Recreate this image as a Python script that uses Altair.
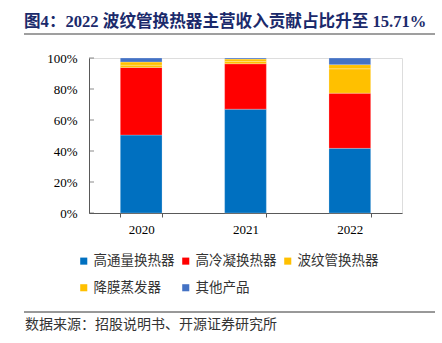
import altair as alt
import pandas as pd

years = ["2020", "2021", "2022"]
categories = ["高通量换热器", "高冷凝换热器", "波纹管换热器", "降膜蒸发器", "其他产品"]
colors = ["#0070C0", "#FF0000", "#FFC000", "#FFC000", "#4472C4"]
s_high_flux = [50.3, 67.0, 41.7]
s_high_cond = [43.6, 29.3, 35.6]
s_corrugated = [1.5, 1.5, 15.71]
s_falling = [2.0, 1.5, 2.7]
s_other = [2.6, 0.7, 4.29]
y_ticks = [0, 20, 40, 60, 80, 100]

title_text = "图4：2022 波纹管换热器主营收入贡献占比升至 15.71%"
source_text = "数据来源：招股说明书、开源证券研究所"

series = [s_high_flux, s_high_cond, s_corrugated, s_falling, s_other]
rows = []
for i, (cat, vals) in enumerate(zip(categories, series)):
    for y, v in zip(years, vals):
        rows.append({"year": y, "category": cat, "value": v, "idx": i})
df = pd.DataFrame(rows)

SERIF = "Liberation Serif, Noto Sans CJK SC"
AXIS_COLOR = "#595959"

y_axis = alt.Axis(title=None, values=y_ticks, labelExpr="datum.value + '%'",
                  ticks=False, grid=False, domainColor=AXIS_COLOR,
                  labelOverlap=False, labelFont=SERIF, labelFontSize=13,
                  labelColor="#000", labelPadding=12)
y_scale = alt.Scale(domain=[0, 100], nice=False)

bars = alt.Chart(df).mark_bar(stroke="white", strokeWidth=0.4, strokeOpacity=0.6).encode(
    x=alt.X("year:N", sort=years,
            scale=alt.Scale(paddingInner=0.6, paddingOuter=0.3),
            axis=alt.Axis(title=None, labelAngle=0, tickBand="extent", ticks=True,
                          tickSize=4, tickColor=AXIS_COLOR, domainColor=AXIS_COLOR,
                          labelFont=SERIF, labelFontSize=13, labelColor="#000",
                          labelPadding=6)),
    y=alt.Y("value:Q", stack="zero", scale=y_scale, axis=y_axis),
    color=alt.Color("category:N",
                    scale=alt.Scale(domain=categories, range=colors),
                    legend=alt.Legend(title=None, orient="none", legendX=-12, legendY=196,
                                      direction="horizontal",
                                      columns=3, symbolType="square", symbolSize=50,
                                      symbolStrokeWidth=0, labelFont=SERIF,
                                      labelFontSize=13.5, labelColor="#333",
                                      columnPadding=4, rowPadding=12, labelOffset=3)),
    order=alt.Order("idx:Q", sort="ascending"),
)

tick_df = pd.DataFrame({"value": y_ticks})
yticks = alt.Chart(tick_df).mark_tick(color=AXIS_COLOR, thickness=1, size=5).encode(
    y=alt.Y("value:Q", scale=y_scale, axis=y_axis),
    x=alt.value(2.5),
)

one = pd.DataFrame({"t": [title_text]})
title = alt.Chart(one).mark_text(align="left", baseline="middle", font=SERIF,
                                 fontSize=16.6, fontWeight="bold", color="#1b2a6b").encode(
    x=alt.value(-65), y=alt.value(-36), text="t:N")

src = alt.Chart(pd.DataFrame({"t": [source_text]})).mark_text(
    align="left", baseline="middle", font=SERIF, fontSize=14, color="#333").encode(
    x=alt.value(-64), y=alt.value(267), text="t:N")

line_top = alt.Chart(one).mark_rule(color="#7f7f7f", strokeWidth=1.5).encode(
    x=alt.value(-65), x2=alt.value(346), y=alt.value(-24))
line_bot = alt.Chart(one).mark_rule(color="#333", strokeWidth=1).encode(
    x=alt.value(-65), x2=alt.value(346), y=alt.value(254))

chart = alt.layer(bars, yticks, title, src, line_top, line_bot).properties(
    width=313, height=155,
    autosize=alt.AutoSizeParams(type="none"),
    padding={"left": 89, "top": 58, "right": 40, "bottom": 130},
).configure_view(stroke=None).configure(background="white")

chart.save("out.html", embed_options={"renderer": "svg", "actions": False})
